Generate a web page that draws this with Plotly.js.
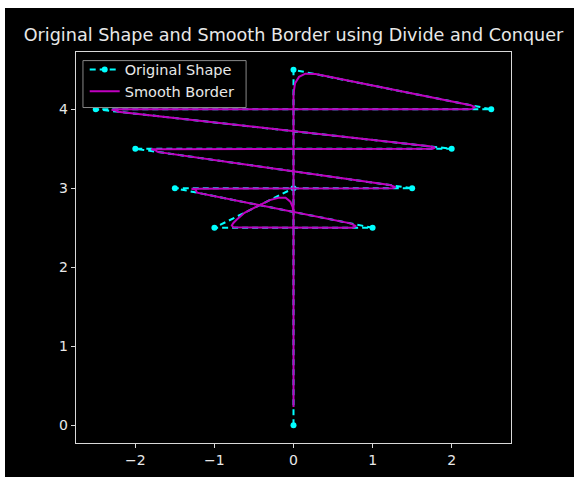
<!DOCTYPE html>
<html>
<head>
<meta charset="utf-8">
<script src="https://cdn.plot.ly/plotly-3.0.1.min.js"></script>
<style>
  html, body { margin: 0; padding: 0; background: #ffffff; width: 574px; height: 477px; overflow: hidden; }
  #chart { position: absolute; left: 5px; top: 8px; width: 569px; height: 469px; }
</style>
</head>
<body>
<div id="chart"></div>
<script>
// Original shape vertices
const shapeX = [0, 0, 2.5, -2.5, 2, -2, 1.5, -1.5, 1, -1, 0];
const shapeY = [0, 4.5, 4, 4, 3.5, 3.5, 3, 3, 2.5, 2.5, 3];

// Smooth border path
const smoothX = [0, 0, 0.02, 0.07, 0.15, 0.28, 2.24, 2.29, 2.26, 2.22, -2.25, -2.3, -2.25, -2.22,
  1.72, 1.79, 1.76, 1.72, -1.75, -1.8, -1.75, -1.72, 1.22, 1.29, 1.25, 1.22, -1.24, -1.29, -1.24, -1.22,
  0.72, 0.79, 0.75, 0.72, -0.7, -0.76, -0.78, -0.76, -0.72, -0.62, -0.46, -0.3, -0.19, -0.1, -0.04, -0.01, 0, 0];
const smoothY = [0.23, 4.2, 4.33, 4.41, 4.45, 4.445, 4.052, 4.03, 4.005, 4.0, 4.0, 3.995, 3.985, 3.969,
  3.531, 3.515, 3.5, 3.5, 3.5, 3.495, 3.485, 3.46, 3.04, 3.015, 3.0, 3.0, 3.0, 2.995, 2.985, 2.944,
  2.556, 2.52, 2.5, 2.5, 2.5, 2.505, 2.53, 2.56, 2.6, 2.69, 2.77, 2.85, 2.88, 2.88, 2.83, 2.76, 2.68, 0.23];

const xTicks = [-2, -1, 0, 1, 2];
const xTickLabels = ['\u22122', '\u22121', '0', '1', '2'];
const yTicks = [0, 1, 2, 3, 4];

const traces = [
  {
    x: shapeX, y: shapeY, name: 'Original Shape', mode: 'lines+markers', type: 'scatter',
    line: { color: '#00ffff', width: 2, dash: '6px,4px' },
    marker: { color: '#00ffff', size: 6 }
  },
  {
    x: smoothX, y: smoothY, name: 'Smooth Border', mode: 'lines', type: 'scatter',
    line: { color: '#bf00bf', width: 2 }
  }
];

const axisCommon = {
  showgrid: false, zeroline: false, showline: true, mirror: true,
  linecolor: '#d8d8d8', linewidth: 1.2, ticks: 'outside', ticklen: 4, tickwidth: 1.2,
  tickcolor: '#d8d8d8', tickfont: { family: 'DejaVu Sans', size: 14, color: '#e8e8e8' }
};

const layout = {
  width: 569, height: 469,
  paper_bgcolor: '#000000', plot_bgcolor: '#000000',
  margin: { l: 71, r: 63, t: 43.5, b: 34, pad: 0 },
  title: {
    text: 'Original Shape and Smooth Border using Divide and Conquer',
    font: { family: 'DejaVu Sans', size: 17.6, color: '#e8e8e8' },
    xref: 'paper', x: 0.5, xanchor: 'center',
    yref: 'container', y: 0.942, yanchor: 'middle'
  },
  xaxis: Object.assign({}, axisCommon, { range: [-2.75, 2.75], tickvals: xTicks, ticktext: xTickLabels }),
  yaxis: Object.assign({}, axisCommon, { range: [-0.225, 4.725], tickvals: yTicks }),
  shapes: [{
    type: 'rect', xref: 'paper', yref: 'paper', layer: 'above',
    x0: 0.016, x1: 0.391, y0: 0.858, y1: 0.978,
    fillcolor: '#000000', line: { color: '#888888', width: 1 }
  }],
  showlegend: true,
  legend: {
    x: 0.02, y: 0.996, xanchor: 'left', yanchor: 'top',
    bgcolor: 'rgba(0,0,0,0)', borderwidth: 0,
    font: { family: 'DejaVu Sans', size: 14.5, color: '#e8e8e8' },
    tracegroupgap: 0
  }
};

Plotly.newPlot('chart', traces, layout, { displayModeBar: false, staticPlot: true });
</script>
</body>
</html>
